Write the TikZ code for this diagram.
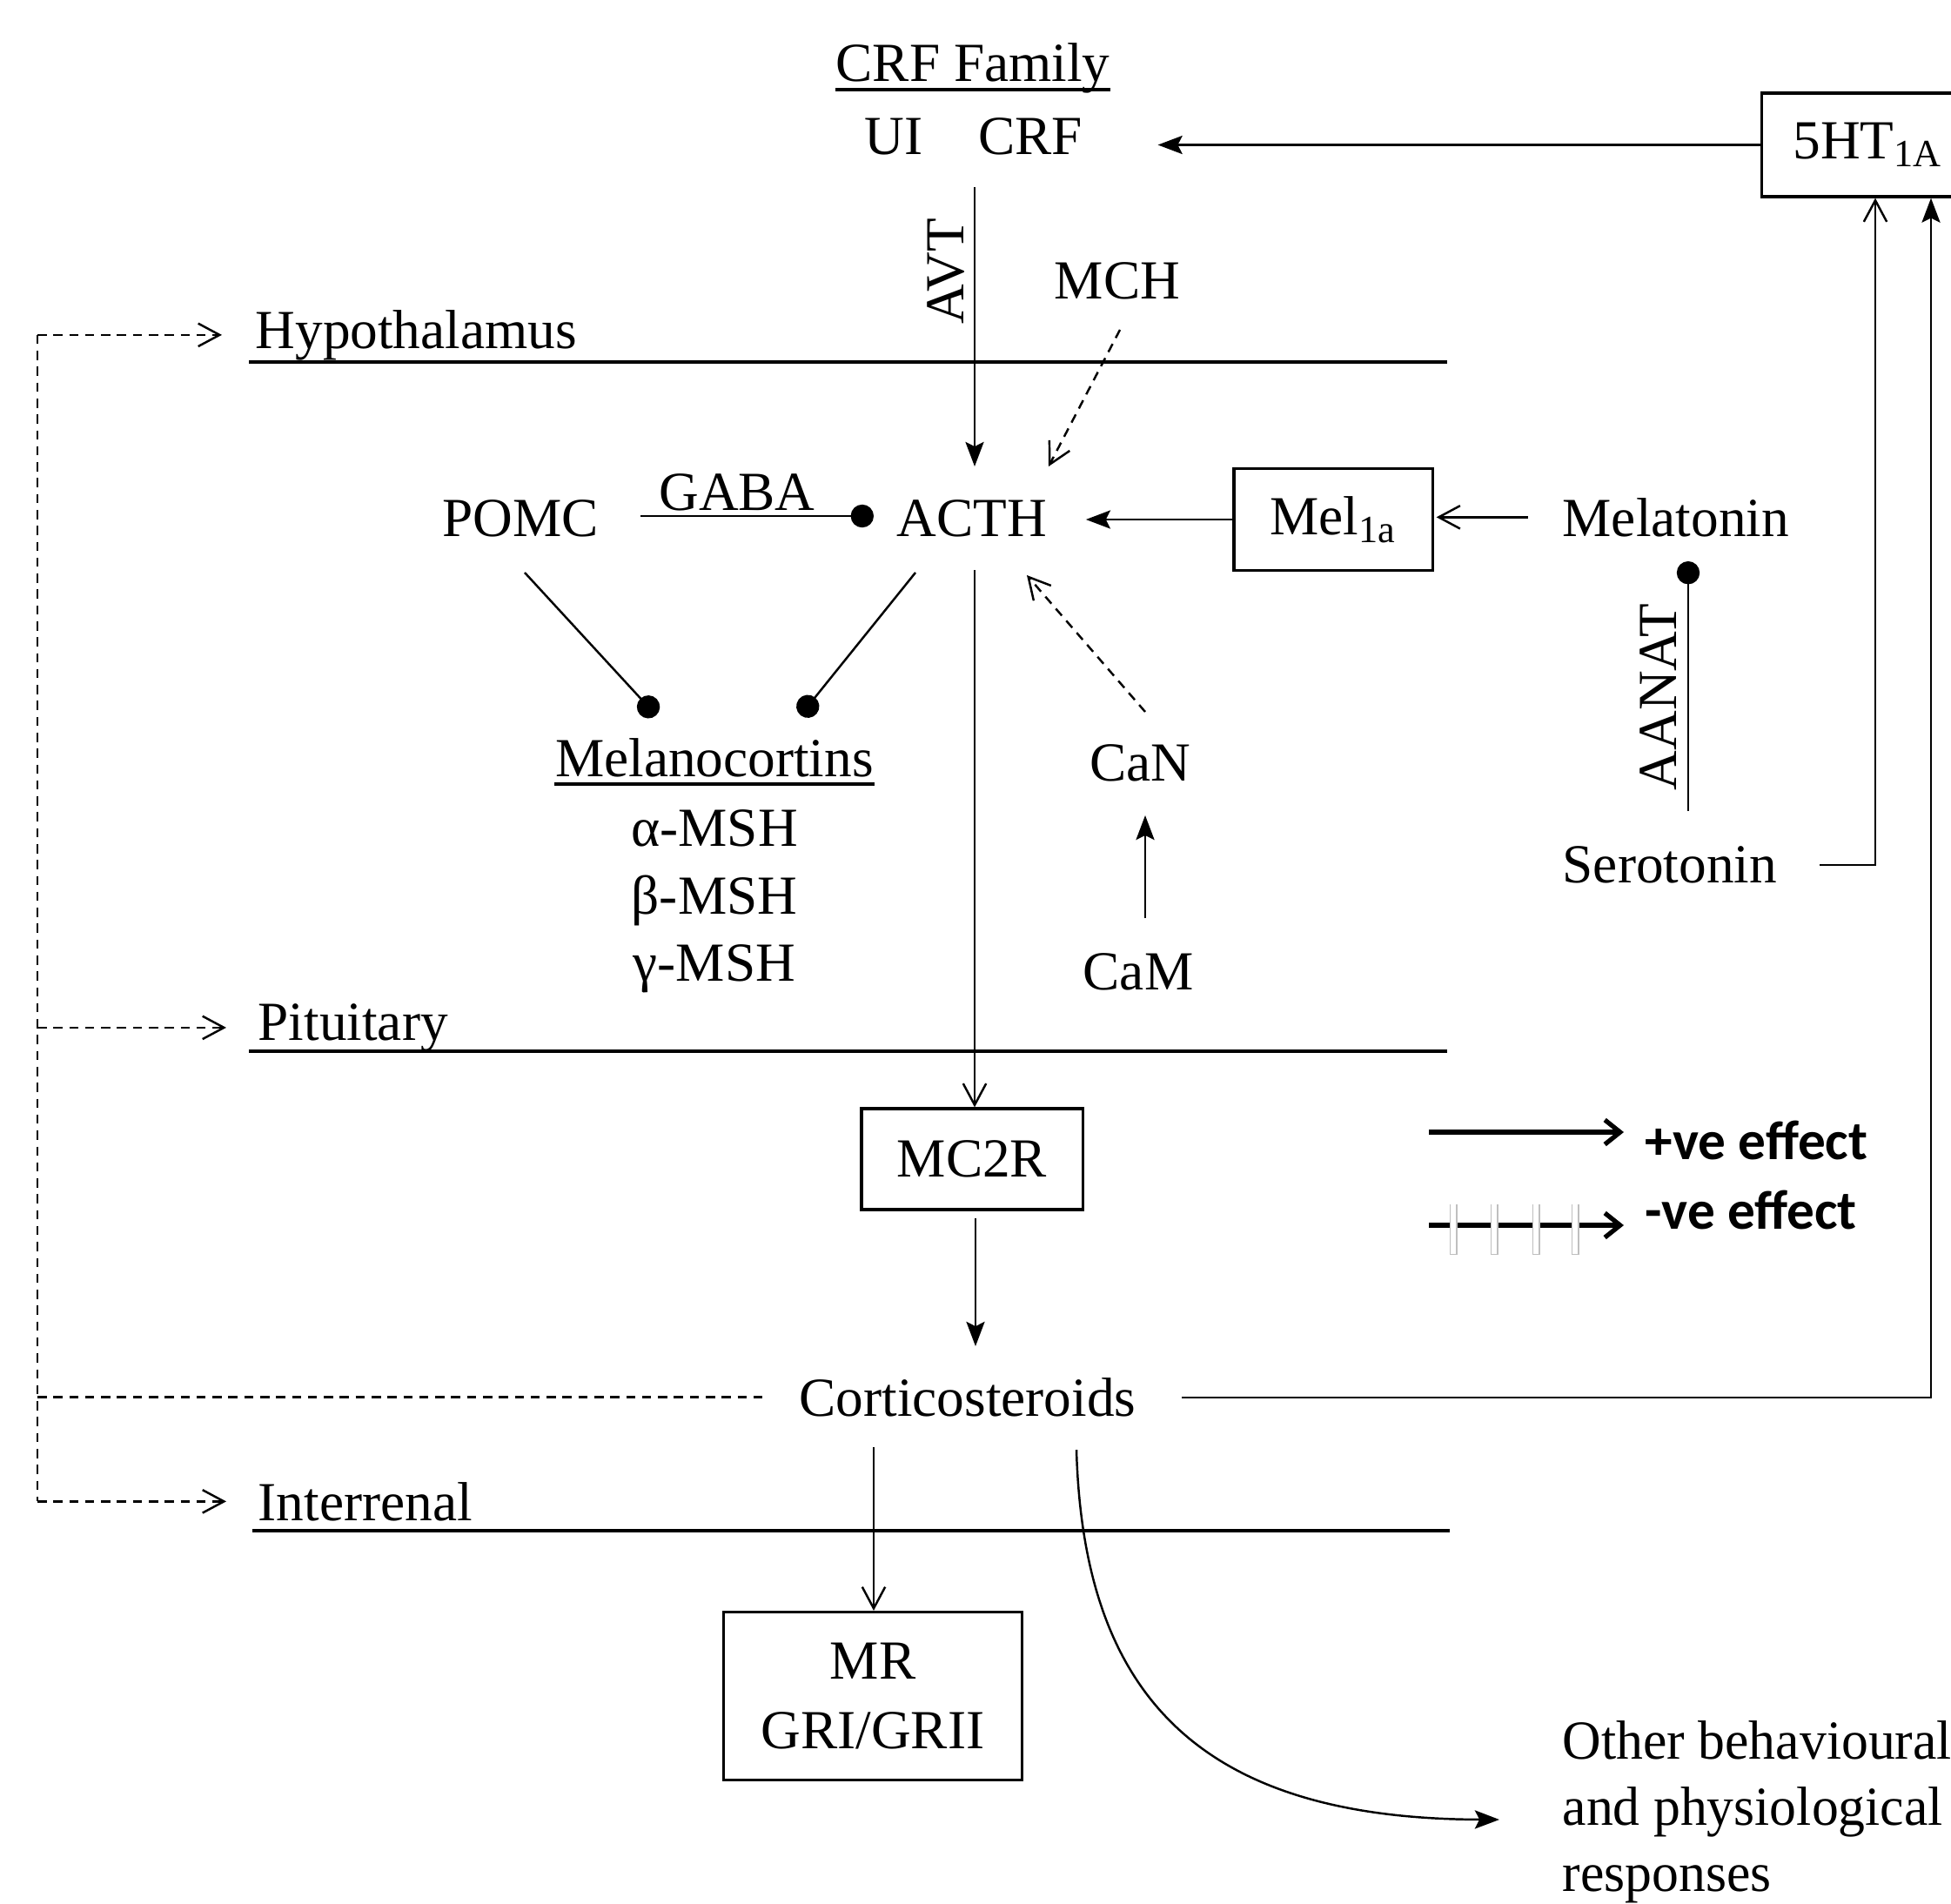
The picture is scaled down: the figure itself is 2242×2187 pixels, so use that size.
\documentclass[tikz,border=0pt]{standalone}
\usepackage{fontspec}
\setmainfont{Liberation Serif}
\newfontfamily\legendfont{Carlito}
\usetikzlibrary{arrows.meta,calc}
\begin{document}
\begin{tikzpicture}[x=0.01cm,y=-0.01cm,
  every node/.style={inner sep=0pt, font=\fontsize{18pt}{22pt}\selectfont},
  boxnode/.style={draw, line width=0.9pt, inner sep=0pt},
  conn/.style={line width=0.7pt},
  posarr/.style={conn, -{Stealth[length=8pt,width=6pt,inset=1.5pt]}},
  openarr/.style={conn, -{Straight Barb[length=7pt,width=7.5pt]}},
  dotend/.style={conn, -{Circle[length=7.5pt]}},
  dashln/.style={conn, dash pattern=on 3pt off 2.2pt},
  dasharr/.style={dashln, -{Straight Barb[length=7pt,width=7.5pt]}},
  region/.style={line width=1.1pt},
  ulin/.style={line width=0.9pt},
  legtext/.style={font=\fontsize{18pt}{22pt}\selectfont\legendfont\bfseries},
  legarr/.style={line width=1.5pt, -{Straight Barb[length=5pt,width=8pt,line width=1.5pt]}},
]
\useasboundingbox (0,0) rectangle (2242,2187);
\clip (0,0) rectangle (2242,2187);
\fill[white] (0,0) rectangle (2242,2187);

% ---------- nodes ----------
\node[anchor=base] (crffam) at (1118,93) {CRF Family};
\node[anchor=base] (ui) at (1027,177) {UI};
\node[anchor=base] (crf) at (1184,177) {CRF};
\node[boxnode, anchor=west, minimum height=1.19cm, inner xsep=3.6mm] (five) at (2023,166.5) {5HT\textsubscript{1A}};
\node[rotate=90] (avt) at (1087,312) {AVT};
\node[anchor=base] (mch) at (1284,343) {MCH};
\node[anchor=base west] (hypo) at (293,400) {Hypothalamus};
\node[anchor=base west] (pit) at (296,1195) {Pituitary};
\node[anchor=base west] (inter) at (296,1747) {Interrenal};
\node[anchor=base] (pomc) at (598,616) {POMC};
\node[anchor=base] (gaba) at (847,586) {GABA};
\node[anchor=base] (acth) at (1117,616) {ACTH};
\node[boxnode, minimum width=2.28cm, minimum height=1.17cm] (mel) at (1532,597) {Mel\textsubscript{1a}};
\node[anchor=base west] (melatonin) at (1795,616) {Melatonin};
\node[rotate=90] (aanat) at (1906,801) {AANAT};
\node[anchor=base west] (serotonin) at (1795,1014) {Serotonin};
\node[anchor=base] (melano) at (821,892) {Melanocortins};
\node[anchor=base] (alpha) at (821,972) {α-MSH};
\node[anchor=base] (beta) at (821,1050) {β-MSH};
\node[anchor=base] (gamma) at (821,1127) {γ-MSH};
\node[anchor=base] (can) at (1310,897) {CaN};
\node[anchor=base] (cam) at (1308,1137) {CaM};
\node[boxnode, minimum width=2.54cm, minimum height=1.16cm] (mc2r) at (1117,1332) {MC2R};
\node[anchor=base] (cortico) at (1112,1627) {Corticosteroids};
\node[boxnode, minimum width=3.43cm, minimum height=1.93cm, align=center, font=\fontsize{18pt}{22.8pt}\selectfont] (mr) at (1003,1949) {MR\\GRI/GRII};
\node[anchor=north west, align=left, xscale=0.975, font=\fontsize{18pt}{21.6pt}\selectfont] (other) at (1795,1977) {Other behavioural\\and physiological\\responses};
\node[legtext, anchor=west] (legp) at (1890,1310) {+ve effect};
\node[legtext, anchor=west] (legn) at (1890,1390) {-ve effect};

% ---------- underlines ----------
\draw[ulin] ($(crffam.base west)+(0,10)$) -- ($(crffam.base east)+(0,10)$);
\draw[ulin] ($(melano.base west)+(0,9)$) -- ($(melano.base east)+(0,9)$);

% ---------- region lines ----------
\draw[region] ($(hypo.base west)+(-7,16)$) -- ++(1377,0);
\draw[region] ($(pit.base west)+(-10,13)$) -- ++(1377,0);
\draw[region] ($(inter.base west)+(-6,12)$) -- ++(1376,0);

% ---------- left dashed feedback ----------
\coordinate (lx) at (43,0);
\draw[dashln] (hypo.west -| lx) -- (inter.west -| lx);
\draw[dasharr, shorten >=3.8mm] (hypo.west -| lx) -- (hypo.west);
\draw[dasharr, shorten >=3.6mm] (pit.west -| lx) -- (pit.west);
\draw[dasharr, shorten >=3.6mm] (inter.west -| lx) -- (inter.west);
\draw[dashln, shorten >=4mm] (cortico.west -| lx) -- (cortico.west);

% ---------- connectors ----------
\draw[posarr, shorten >=8.6mm] (five.west) -- (five.west -| crf.east);
\draw[posarr] ($(acth.base |- crf.base)+(3,38)$) -- ($(acth.base)+(3,-80)$);
\draw[dasharr] ($(mch.base)+(3,36)$) -- ($(acth.base)+(88,-80)$);
\draw[dotend] ($(pomc.base)+(138,-23)$) -- ($(acth.base)+(-113,-23)$);
\draw[dotend] ($(pomc.base)+(5,42)$) -- ($(melano.base)+(-67,-70)$);
\draw[dotend] ($(acth.base)+(-65,42)$) -- ($(melano.base)+(99,-70)$);
\draw[openarr] ($(acth.base)+(3,39)$) -- ($(mc2r.north)+(3,0)$);
\draw[posarr, shorten >=4.4mm] (mel.west) -- (mel.west -| acth.east);
\draw[openarr, shorten <=3.9mm, shorten >=0.3mm] (melatonin.west) -- (melatonin.west -| mel.east);
\draw[dotend] ($(serotonin.base west)+(145,-82)$) -- ($(melatonin.base west)+(145,29)$);
\draw[openarr] ($(serotonin.base west)+(296,-20)$) -| ($(five.south west)+(132,0)$);
\draw[posarr] ($(cortico.base)+(246,-21)$) -| ($(five.south west)+(196,0)$);
\draw[dasharr] ($(can.base)+(6,-79)$) -- ($(acth.base)+(63,45)$);
\draw[posarr] ($(cam.base)+(8,-82)$) -- ($(can.base)+(6,40)$);
\draw[posarr] ($(mc2r.south)+(4,8)$) -- ($(cortico.base)+(9,-80)$);
\draw[openarr] ($(cortico.base)+(-108,36)$) -- ($(mr.north)+(1,0)$);
\draw[posarr] ($(cortico.base)+(125,39)$) .. controls +(8,284) and +(-343,-1) .. ($(other.north west)+(-72,114)$);

% ---------- legend ----------
\coordinate (pa) at ($(legp.west)+(-248,-9)$);
\coordinate (pb) at ($(legp.west)+(-24,-9)$);
\draw[legarr] (pa) -- (pb);
\coordinate (na) at ($(legn.west)+(-248,18)$);
\coordinate (nb) at ($(legn.west)+(-24,18)$);
\draw[legarr] (na) -- (nb);
\foreach \dx in {28,75,123,168} {
  \draw[line width=2.4pt, black!25] ($(na)+(\dx+0.5,-24)$) -- ($(na)+(\dx+0.5,34)$);
  \draw[line width=1.6pt, white] ($(na)+(\dx,-25)$) -- ($(na)+(\dx,33)$);
}
\end{tikzpicture}
\end{document}
